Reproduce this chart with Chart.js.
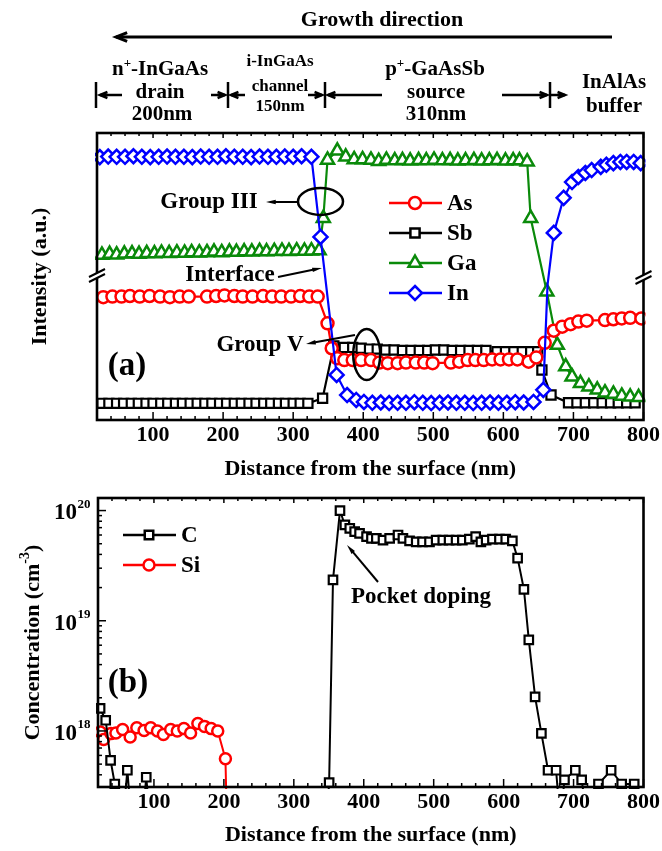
<!DOCTYPE html>
<html>
<head>
<meta charset="utf-8">
<script src="https://cdn.jsdelivr.net/npm/chart.js@4.4.1/dist/chart.umd.min.js"></script>
<style>
  body { margin: 0; background: #fff; width: 662px; height: 851px; overflow: hidden; position: relative; }
  canvas { position: absolute; left: 0; }
  #chartA { top: 0; }
  #chartB { top: 485px; }
</style>
</head>
<body>
<canvas id="chartA" width="662" height="485"></canvas>
<canvas id="chartB" width="662" height="366"></canvas>
<script>
// ---------- Panel (a): SIMS intensity (a.u.) vs depth (nm) ----------
const distAs = [29, 42, 55, 67, 81, 95, 110, 124, 138, 151, 177, 190, 202, 216, 228, 242, 257, 270, 283, 297, 310, 323, 335,
  349, 355, 363, 373, 385, 397, 411, 423, 435, 449, 461, 475, 487, 499, 525, 537, 549, 560, 572, 584, 596, 608, 620, 636,
  647, 659, 672, 684, 696, 707, 719, 745, 757, 769, 781, 797];
const intAs = [42.8, 43.0, 43.0, 43.2, 43.0, 43.2, 43.0, 42.8, 43.0, 43.0, 43.0, 43.2, 43.4, 43.2, 43.0, 43.0, 43.2, 43.0, 43.0, 43.0, 43.2, 43.0, 43.0,
  33.7, 25.0, 21.5, 20.9, 20.9, 20.9, 20.9, 20.0, 19.8, 19.8, 20.0, 20.0, 20.0, 19.8, 20.0, 20.3, 20.9, 20.9, 20.9, 21.1, 21.1, 21.1, 21.1, 20.3,
  21.8, 26.9, 31.1, 32.5, 33.4, 34.3, 34.6, 34.8, 35.1, 35.4, 35.6, 35.4];

const distSb = [27, 37, 48, 58, 69, 79, 90, 100, 111, 121, 132, 142, 153, 163, 174, 184, 195, 205, 216, 226, 237, 247, 258, 268, 279, 289, 300, 310, 321,
  342, 358, 373, 385, 397, 409, 420, 432, 444, 456, 468, 480, 492, 503, 515, 527, 539, 551, 563, 575, 591, 603, 615, 627, 639, 649,
  655, 668, 693, 705, 717, 729, 741, 753, 764, 776, 788];
const intSb = [5.8, 5.8, 5.8, 5.8, 5.8, 5.8, 5.8, 5.8, 5.8, 5.8, 5.8, 5.8, 5.8, 5.8, 5.8, 5.8, 5.8, 5.8, 5.8, 5.8, 5.8, 5.8, 5.8, 5.8, 5.8, 5.8, 5.8, 5.8, 5.8,
  7.6, 25.8, 25.3, 25.3, 25.0, 24.7, 24.7, 24.4, 24.4, 24.2, 24.2, 24.2, 24.2, 24.4, 24.4, 24.2, 24.2, 24.2, 24.2, 24.2, 23.8, 23.8, 23.8, 23.8, 23.8, 23.8,
  17.4, 8.7, 6.0, 6.0, 6.0, 6.0, 6.0, 6.0, 6.0, 6.0, 6.0];

const distGa = [27, 38, 48, 59, 70, 80, 91, 102, 112, 123, 134, 145, 155, 166, 177, 187, 198, 209, 219, 230, 241, 252, 262, 273, 284, 294, 305, 316, 326, 337,
  343, 349, 363, 375, 387, 399, 411, 422, 433, 445, 456, 467, 479, 490, 501, 513, 524, 535, 546, 558, 569, 580, 591, 603, 614, 623, 634,
  639, 662, 677, 689, 698, 710, 722, 734, 745, 757, 769, 781, 793];
const intGa = [57.5, 57.8, 57.6, 57.9, 58.0, 57.8, 58.1, 58.0, 58.2, 58.1, 58.3, 58.2, 58.4, 58.3, 58.4, 58.6, 58.4, 58.6, 58.5, 58.7, 58.6, 58.8, 58.7, 58.8, 58.9, 58.8, 59.0, 58.9, 59.0, 59.1,
  70.3, 90.6, 93.8, 91.7, 90.8, 90.8, 90.6, 90.2, 90.6, 90.4, 90.5, 90.3, 90.5, 90.4, 90.6, 90.4, 90.5, 90.3, 90.4, 90.5, 90.3, 90.4, 90.5, 90.3, 90.4, 90.4, 90.0,
  70.3, 44.7, 26.1, 18.6, 15.1, 12.8, 11.6, 10.5, 9.5, 9.1, 8.4, 8.1, 7.9];

const distIn = [24, 36, 48, 60, 72, 84, 96, 108, 120, 132, 144, 156, 168, 180, 192, 204, 216, 228, 240, 252, 264, 276, 288, 300, 312, 326,
  339, 362, 377, 390, 401, 413, 425, 437, 449, 461, 473, 485, 497, 509, 521, 533, 545, 557, 569, 581, 593, 605, 617, 629, 643,
  657, 663, 672, 686, 698, 707, 717, 726, 739, 747, 757, 767, 776, 786, 796];
const intIn = [91.6, 91.8, 91.7, 91.7, 91.9, 91.7, 91.6, 91.7, 91.8, 91.7, 91.7, 91.6, 91.8, 91.7, 91.7, 91.9, 91.7, 91.7, 91.6, 91.8, 91.7, 91.7, 91.8, 91.7, 91.9, 91.7,
  63.8, 15.7, 8.7, 7.0, 6.3, 6.0, 6.1, 5.9, 6.0, 6.0, 6.2, 6.0, 5.9, 6.0, 6.1, 6.0, 6.0, 5.9, 6.0, 6.1, 6.0, 6.0, 6.2, 6.1, 6.3,
  10.5, 47.0, 65.2, 77.4, 82.9, 84.7, 86.1, 87.1, 88.2, 88.9, 89.5, 89.9, 89.9, 89.9, 89.5];
const inNoMarker = [663]; // hidden behind the Ga triangle in the figure

// ---------- Panel (b): dopant concentration (cm^-3) vs depth (nm) ----------
const distC = [23, 31, 38, 44, 53, 62, 70, 81, 89, 97, 345, 350.5, 356, 366, 373, 380, 387, 394, 404, 411, 418, 427.5, 437, 449, 456, 465.5,
  475, 484, 494, 503.5, 513, 522, 532, 541, 551, 560, 567.5, 575, 584, 594, 603, 612.5, 620, 629, 636, 645, 654, 663.5, 675, 681, 687,
  702.5, 711.6, 720, 735.6, 753.7, 768.8, 786.7];
const concC = [1.6e18, 1.25e18, 5.4e17, 3.3e17, 1e17, 4.4e17, 1e17, 1e17, 3.8e17, 1e17, 1e17, 3.4e17, 2.35e19, 1.0e20, 7.4e19, 6.9e19, 6.45e19, 6.2e19, 5.8e19, 5.6e19, 5.6e19, 5.4e19, 5.6e19, 6.0e19, 5.6e19, 5.3e19,
  5.2e19, 5.2e19, 5.2e19, 5.4e19, 5.4e19, 5.4e19, 5.4e19, 5.4e19, 5.5e19, 5.8e19, 5.2e19, 5.4e19, 5.5e19, 5.5e19, 5.5e19, 5.3e19, 3.7e19, 1.93e19, 6.7e18, 2.04e18, 9.5e17, 4.4e17, 4.4e17, 1.5e17, 3.6e17,
  4.4e17, 3.6e17, 1.5e17, 3.3e17, 4.4e17, 3.3e17, 3.3e17];

const distSi = [23.3, 28.1, 38.5, 45.6, 55.2, 66, 75.5, 85.9, 95.4, 105, 113.5, 123.9, 133.4, 142.8, 152.4, 162.8, 172.3, 181.8, 191.2, 202.2, 205];
const concSi = [9.8e17, 8.35e17, 9.46e17, 9.6e17, 1.03e18, 8.8e17, 1.07e18, 1.01e18, 1.07e18, 1.0e18, 9.3e17, 1.03e18, 1.0e18, 1.05e18, 9.6e17, 1.17e18, 1.10e18, 1.05e18, 1.0e18, 5.6e17, 1e17];

const distTicks = [100, 200, 300, 400, 500, 600, 700, 800];
const concTicks = [1e18, 1e19, 1e20];

const RED = '#ff0000', GREEN = '#0a8a0a', BLUE = '#0000ff', BLACK = '#000000';
const SERIF = '"Liberation Serif", "Times New Roman", serif';
const bold = (size) => 'bold ' + size + 'px ' + SERIF;

function pts(xs, ys) { return xs.map((x, i) => ({ x: x, y: ys[i] })); }

// ---------- drawing helpers ----------
function drawMarker(ctx, style, x, y, r, color, lw) {
  ctx.save();
  ctx.beginPath();
  if (style === 'circle') {
    ctx.arc(x, y, r, 0, Math.PI * 2);
  } else if (style === 'rect') {
    const s = r * Math.SQRT1_2;
    ctx.rect(x - s, y - s, 2 * s, 2 * s);
  } else if (style === 'triangle') {
    ctx.moveTo(x, y - r);
    ctx.lineTo(x + r * Math.sin(Math.PI / 3), y + r / 2);
    ctx.lineTo(x - r * Math.sin(Math.PI / 3), y + r / 2);
    ctx.closePath();
  } else if (style === 'rectRot') {
    ctx.moveTo(x, y - r); ctx.lineTo(x + r, y); ctx.lineTo(x, y + r); ctx.lineTo(x - r, y); ctx.closePath();
  }
  ctx.fillStyle = '#fff';
  ctx.fill();
  ctx.lineWidth = lw;
  ctx.strokeStyle = color;
  ctx.stroke();
  ctx.restore();
}

function arrow(ctx, x1, y1, x2, y2, opts) {
  const o = Object.assign({ lw: 2, head: 9, filled: true, color: '#000' }, opts || {});
  const ang = Math.atan2(y2 - y1, x2 - x1);
  ctx.save();
  ctx.strokeStyle = o.color; ctx.fillStyle = o.color; ctx.lineWidth = o.lw;
  ctx.beginPath();
  ctx.moveTo(x1, y1);
  ctx.lineTo(x2 - (o.filled ? Math.cos(ang) * o.head * 0.8 : 0), y2 - (o.filled ? Math.sin(ang) * o.head * 0.8 : 0));
  ctx.stroke();
  const a1 = ang + Math.PI - 0.38, a2 = ang + Math.PI + 0.38;
  ctx.beginPath();
  if (o.filled) {
    const a1f = ang + Math.PI - 0.22, a2f = ang + Math.PI + 0.22;
    ctx.moveTo(x2, y2);
    ctx.lineTo(x2 + Math.cos(a1f) * o.head, y2 + Math.sin(a1f) * o.head);
    ctx.lineTo(x2 + Math.cos(a2f) * o.head, y2 + Math.sin(a2f) * o.head);
    ctx.closePath();
    ctx.fill();
  } else {
    ctx.moveTo(x2 + Math.cos(a1) * o.head, y2 + Math.sin(a1) * o.head);
    ctx.lineTo(x2, y2);
    ctx.lineTo(x2 + Math.cos(a2) * o.head, y2 + Math.sin(a2) * o.head);
    ctx.stroke();
  }
  ctx.restore();
}

// parts: [text, size, raise]; drawn centred on (cx, cy)
function richText(ctx, parts, cx, cy, align) {
  ctx.save();
  ctx.textBaseline = 'middle';
  ctx.textAlign = 'left';
  let w = 0;
  parts.forEach(p => { ctx.font = bold(p[1]); w += ctx.measureText(p[0]).width; });
  let x = align === 'left' ? cx : cx - w / 2;
  parts.forEach(p => {
    ctx.font = bold(p[1]);
    ctx.fillText(p[0], x, cy - (p[2] || 0));
    x += ctx.measureText(p[0]).width;
  });
  ctx.restore();
}

function text(ctx, s, x, y, size, align) {
  ctx.save();
  ctx.font = bold(size);
  ctx.fillStyle = '#000';
  ctx.textAlign = align || 'center';
  ctx.textBaseline = 'middle';
  ctx.fillText(s, x, y);
  ctx.restore();
}

function frameAndXTicks(ctx, area, xScale) {
  ctx.save();
  ctx.strokeStyle = '#000';
  ctx.lineWidth = 1.5;
  for (let v = 20; v <= 800; v += 20) {
    const px = xScale.getPixelForValue(v);
    const major = v % 100 === 0;
    ctx.beginPath();
    ctx.moveTo(px, area.bottom); ctx.lineTo(px, area.bottom - (major ? 8 : 4));
    ctx.moveTo(px, area.top); ctx.lineTo(px, area.top + (major ? 5 : 3));
    ctx.stroke();
  }
  ctx.lineWidth = 2.6;
  ctx.strokeRect(area.left, area.top, area.right - area.left, area.bottom - area.top);
  ctx.restore();
}

function legendRow(ctx, x0, y, label, color, style, r) {
  ctx.save();
  ctx.strokeStyle = color; ctx.lineWidth = 2.5;
  ctx.beginPath(); ctx.moveTo(x0, y); ctx.lineTo(x0 + 53, y); ctx.stroke();
  ctx.restore();
  drawMarker(ctx, style, x0 + 26, y, r, color, 2.5);
  text(ctx, label, x0 + 58, y + 1, 23, 'left');
}

// ---------- Panel (a) decorations ----------
const panelAPlugin = {
  id: 'panelA',
  afterDraw(chart) {
    const { ctx, chartArea: a, scales: { x } } = chart;
    frameAndXTicks(ctx, a, x);

    // axis breaks
    [[a.left, 275], [a.right, 277]].forEach(([bx, by]) => {
      ctx.save();
      ctx.fillStyle = '#fff';
      ctx.beginPath();
      ctx.moveTo(bx - 8, by + 2); ctx.lineTo(bx + 8, by - 6); ctx.lineTo(bx + 8, by - 1); ctx.lineTo(bx - 8, by + 7);
      ctx.closePath(); ctx.fill();
      ctx.strokeStyle = '#000'; ctx.lineWidth = 2;
      ctx.beginPath();
      ctx.moveTo(bx - 8, by + 2); ctx.lineTo(bx + 8, by - 6);
      ctx.moveTo(bx - 8, by + 7); ctx.lineTo(bx + 8, by - 1);
      ctx.stroke();
      ctx.restore();
    });

    // legend
    legendRow(ctx, 389, 203, 'As', RED, 'circle', 6);
    legendRow(ctx, 389, 233, 'Sb', BLACK, 'rect', 6.5);
    legendRow(ctx, 389, 263, 'Ga', GREEN, 'triangle', 7.5);
    legendRow(ctx, 389, 293, 'In', BLUE, 'rectRot', 7);

    // annotations
    ctx.save();
    ctx.strokeStyle = '#000'; ctx.lineWidth = 2.5;
    ctx.beginPath(); ctx.ellipse(320.5, 201.5, 22.5, 13.5, 0, 0, Math.PI * 2); ctx.stroke();
    ctx.beginPath(); ctx.ellipse(366.7, 354.5, 13.5, 25.5, 0, 0, Math.PI * 2); ctx.stroke();
    ctx.restore();
    text(ctx, 'Group III', 209, 202, 23);
    arrow(ctx, 297, 202, 266, 202, { lw: 2, head: 10 });
    text(ctx, 'Interface', 230, 275, 23);
    arrow(ctx, 278, 277, 322, 268, { lw: 2, head: 10 });
    text(ctx, 'Group V', 260, 345, 23);
    arrow(ctx, 355, 335, 306, 344, { lw: 2, head: 10 });
    text(ctx, '(a)', 127, 366, 33);

    // y title
    ctx.save();
    ctx.translate(40, (a.top + a.bottom) / 2);
    ctx.rotate(-Math.PI / 2);
    text(ctx, 'Intensity (a.u.)', 0, 0, 22);
    ctx.restore();

    // layer structure header
    text(ctx, 'Growth direction', 382, 20, 22);
    arrow(ctx, 612, 37, 116, 37, { lw: 3, head: 12, filled: false });
    richText(ctx, [['n', 21], ['+', 13, 6], ['-InGaAs', 21]], 160, 70);
    text(ctx, 'drain', 160, 93, 21);
    text(ctx, '200nm', 162, 115, 21);
    text(ctx, 'i-InGaAs', 280, 62, 17);
    text(ctx, 'channel', 280, 87, 17);
    text(ctx, '150nm', 280, 107, 17);
    richText(ctx, [['p', 21], ['+', 13, 6], ['-GaAsSb', 21]], 435, 70);
    text(ctx, 'source', 436, 93, 21);
    text(ctx, '310nm', 436, 115, 21);
    text(ctx, 'InAlAs', 614, 83, 21);
    text(ctx, 'buffer', 614, 107, 21);
    ctx.save();
    ctx.strokeStyle = '#000'; ctx.lineWidth = 2.5;
    [96, 228, 325, 550].forEach(bx => { ctx.beginPath(); ctx.moveTo(bx, 82); ctx.lineTo(bx, 108); ctx.stroke(); });
    ctx.restore();
    const dim = { lw: 2.5, head: 8, filled: false };
    arrow(ctx, 122, 95, 100, 95, dim);
    arrow(ctx, 211, 95, 225, 95, dim);
    arrow(ctx, 245, 95, 231, 95, dim);
    arrow(ctx, 308, 95, 322, 95, dim);
    arrow(ctx, 382, 95, 328, 95, dim);
    arrow(ctx, 502, 95, 547, 95, dim);
    arrow(ctx, 550, 95, 565, 95, dim);
  }
};

// ---------- Panel (b) decorations ----------
const panelBPlugin = {
  id: 'panelB',
  afterDraw(chart) {
    const { ctx, chartArea: a, scales: { x, y } } = chart;
    frameAndXTicks(ctx, a, x);

    // log ticks on left axis
    ctx.save();
    ctx.strokeStyle = '#000'; ctx.lineWidth = 1.5;
    for (let e = 17; e <= 20; e++) {
      for (let k = 1; k <= 9; k++) {
        const v = k * Math.pow(10, e);
        if (v < y.min || v > y.max) continue;
        const py = y.getPixelForValue(v);
        ctx.beginPath(); ctx.moveTo(a.left, py); ctx.lineTo(a.left + (k === 1 ? 8 : 4), py); ctx.stroke();
      }
    }
    ctx.restore();
    concTicks.forEach(v => {
      const py = y.getPixelForValue(v);
      const exp = Math.round(Math.log10(v));
      text(ctx, '10', 77, py + 3, 23, 'right');
      text(ctx, String(exp), 77.5, py - 6, 13, 'left');
    });

    // y title
    ctx.save();
    ctx.translate(33, (a.top + a.bottom) / 2);
    ctx.rotate(-Math.PI / 2);
    richText(ctx, [['Concentration (cm', 22], ['-3', 14, 8], [')', 22]], 0, 0);
    ctx.restore();

    legendRow(ctx, 123, 50, 'C', BLACK, 'rect', 6);
    legendRow(ctx, 123, 80, 'Si', RED, 'circle', 5.5);

    text(ctx, '(b)', 128, 198, 33);
    text(ctx, 'Pocket doping', 421, 112, 23);
    arrow(ctx, 378, 97, 347, 60, { lw: 2, head: 10 });
  }
};

function xScaleOpts(height) {
  return {
    type: 'linear', min: 20, max: 800,
    grid: { display: false, drawTicks: false },
    border: { display: false },
    afterBuildTicks: (s) => { s.ticks = distTicks.map(v => ({ value: v })); },
    afterFit: (s) => { s.height = height; },
    ticks: { autoSkip: false, maxRotation: 0, padding: 2, color: '#000', font: { family: SERIF, size: 22, weight: 'bold' } },
    title: { display: true, text: 'Distance from the surface (nm)', color: '#000', padding: { top: 0, bottom: 2 },
      font: { family: SERIF, size: 22, weight: 'bold' } }
  };
}

const common = {
  responsive: false,
  animation: false,
  events: [],
  plugins: { legend: { display: false }, tooltip: { enabled: false } }
};

function series(label, xs, ys, color, style, r, order, extra) {
  return Object.assign({
    label: label, data: pts(xs, ys), showLine: true,
    borderColor: color, borderWidth: 2.2, pointStyle: style, pointRadius: r,
    pointBorderWidth: 2.5, pointBackgroundColor: '#fff', pointBorderColor: color,
    order: order, clip: 2
  }, extra || {});
}

new Chart(document.getElementById('chartA'), {
  type: 'scatter',
  data: {
    datasets: [
      series('As', distAs, intAs, RED, 'circle', 6, 1),
      series('Sb', distSb, intSb, BLACK, 'rect', 6.5, 3, { pointBorderWidth: 2.2 }),
      series('Ga', distGa, intGa, GREEN, 'triangle', 7.5, 2),
      series('In', distIn, intIn, BLUE, 'rectRot', 7, 0, {
        pointRadius: (c) => (c.raw && inNoMarker.includes(c.raw.x)) ? 0 : 7
      })
    ]
  },
  options: Object.assign({}, common, {
    layout: { padding: { left: 0, top: 133, right: 17, bottom: 0 } },
    scales: {
      x: xScaleOpts(65),
      y: {
        type: 'linear', min: 0, max: 100,
        grid: { display: false, drawTicks: false }, border: { display: false },
        ticks: { display: false },
        afterFit: (s) => { s.width = 97; }
      }
    }
  }),
  plugins: [panelAPlugin]
});

new Chart(document.getElementById('chartB'), {
  type: 'scatter',
  data: {
    datasets: [
      series('C', distC, concC, BLACK, 'rect', 6, 0, { borderWidth: 2, pointBorderWidth: 2.2 }),
      series('Si', distSi, concSi, RED, 'circle', 5.5, 1, { borderWidth: 2 })
    ]
  },
  options: Object.assign({}, common, {
    layout: { padding: { left: 0, top: 13, right: 17, bottom: 0 } },
    scales: {
      x: xScaleOpts(64),
      y: {
        type: 'logarithmic', min: 3.1e17, max: 1.3e20,
        grid: { display: false, drawTicks: false }, border: { display: false },
        ticks: { display: false },
        afterBuildTicks: (s) => { s.ticks = concTicks.map(v => ({ value: v })); },
        afterFit: (s) => { s.width = 98; }
      }
    }
  }),
  plugins: [panelBPlugin]
});
</script>
</body>
</html>
